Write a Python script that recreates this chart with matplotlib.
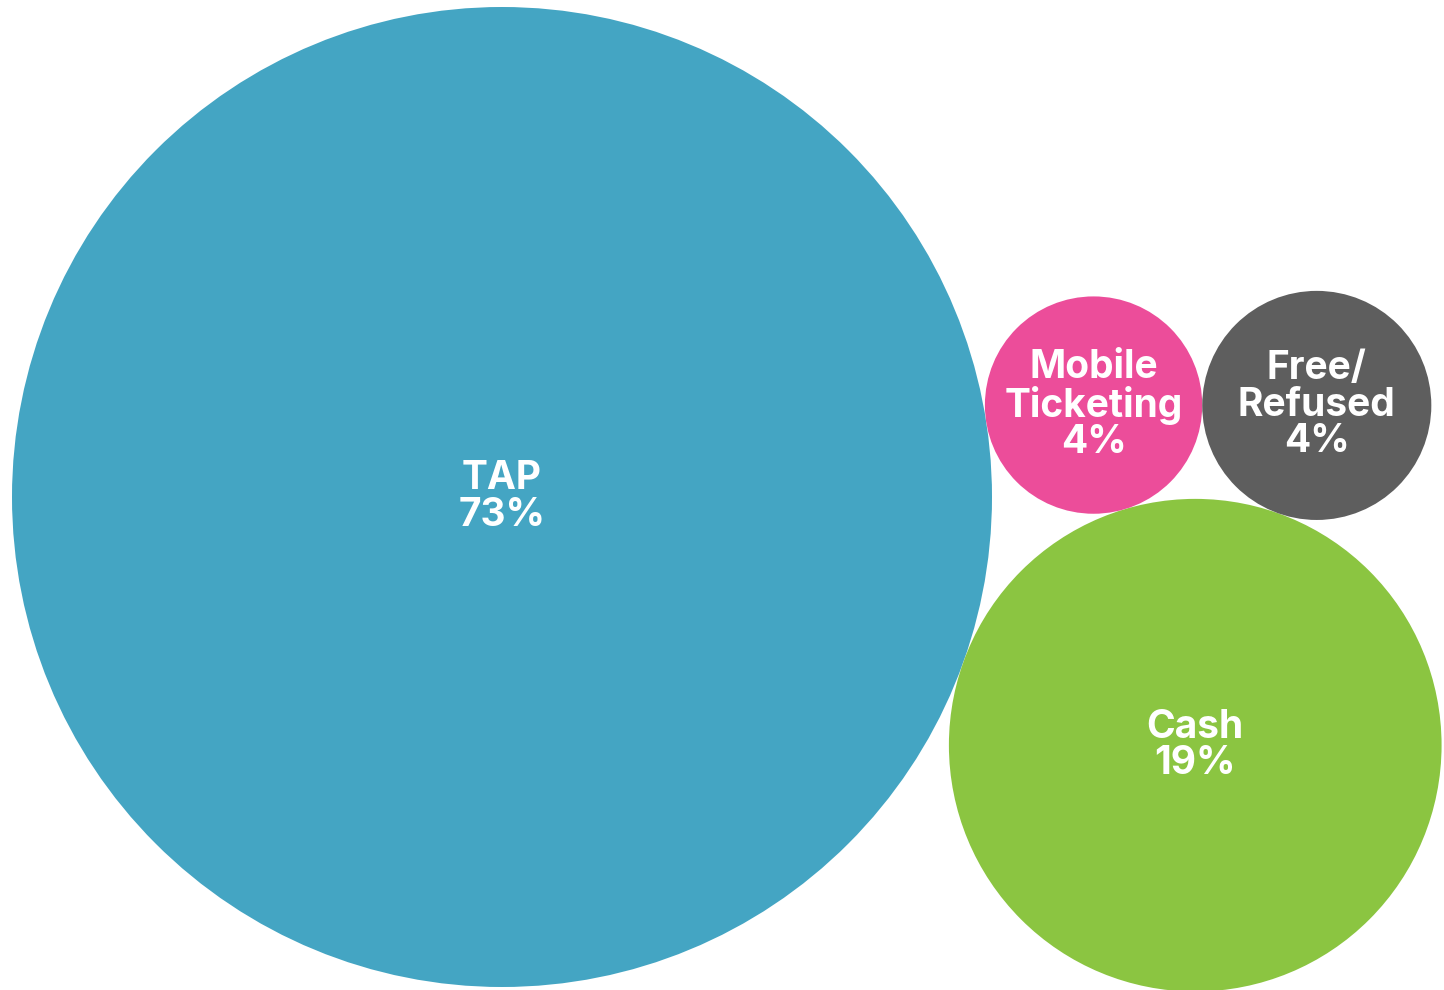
import numpy as np
import matplotlib
matplotlib.use("Agg")
import matplotlib.pyplot as plt
from matplotlib.patches import Circle

categories = ["TAP", "Cash", "Mobile\nTicketing", "Free/\nRefused"]
values = [73.2, 18.5, 3.6, 4.0]
labels = ["73%", "19%", "4%", "4%"]
colors = ["#44A5C3", "#8BC541", "#EC4D9A", "#5E5E5E"]

W, H = 1444, 990
fig = plt.figure(figsize=(W / 100, H / 100), dpi=100)
ax = fig.add_axes([0, 0, 1, 1])
ax.set_xlim(0, W)
ax.set_ylim(H, 0)
ax.set_aspect("equal")
ax.axis("off")

# radii proportional to sqrt(value) (area encoding)
k = 490 / np.sqrt(values[0])
radii = [k * np.sqrt(v) for v in values]


def tangent_to_two(c1, r1, c2, r2, r, side):
    """Center of a circle of radius r tangent to two circles."""
    c1 = np.array(c1, float); c2 = np.array(c2, float)
    d1, d2 = r1 + r, r2 + r
    d = np.linalg.norm(c2 - c1)
    a = (d1 ** 2 - d2 ** 2 + d ** 2) / (2 * d)
    h = np.sqrt(max(d1 ** 2 - a ** 2, 0))
    u = (c2 - c1) / d
    p = c1 + a * u
    perp = np.array([-u[1], u[0]])
    return p + side * h * perp


# packing layout
c_tap = np.array([502.0, 497.0])
ang = np.deg2rad(19.7)
c_cash = c_tap + (radii[0] + radii[1]) * np.array([np.cos(ang), np.sin(ang)])
c_mob = tangent_to_two(c_tap, radii[0], c_cash, radii[1], radii[2], -1)
c_free = tangent_to_two(c_mob, radii[2], c_cash, radii[1], radii[3], -1)
centers = [c_tap, c_cash, c_mob, c_free]

for cat, lab, col, c, r in zip(categories, labels, colors, centers, radii):
    ax.add_patch(Circle(c, r, facecolor=col, edgecolor="none"))
    ax.text(c[0], c[1], f"{cat}\n{lab}", ha="center", va="center",
            color="white", fontsize=28, fontweight="bold",
            family=["Inter", "DejaVu Sans"], linespacing=0.98)

fig.savefig("out.png", dpi=100)
